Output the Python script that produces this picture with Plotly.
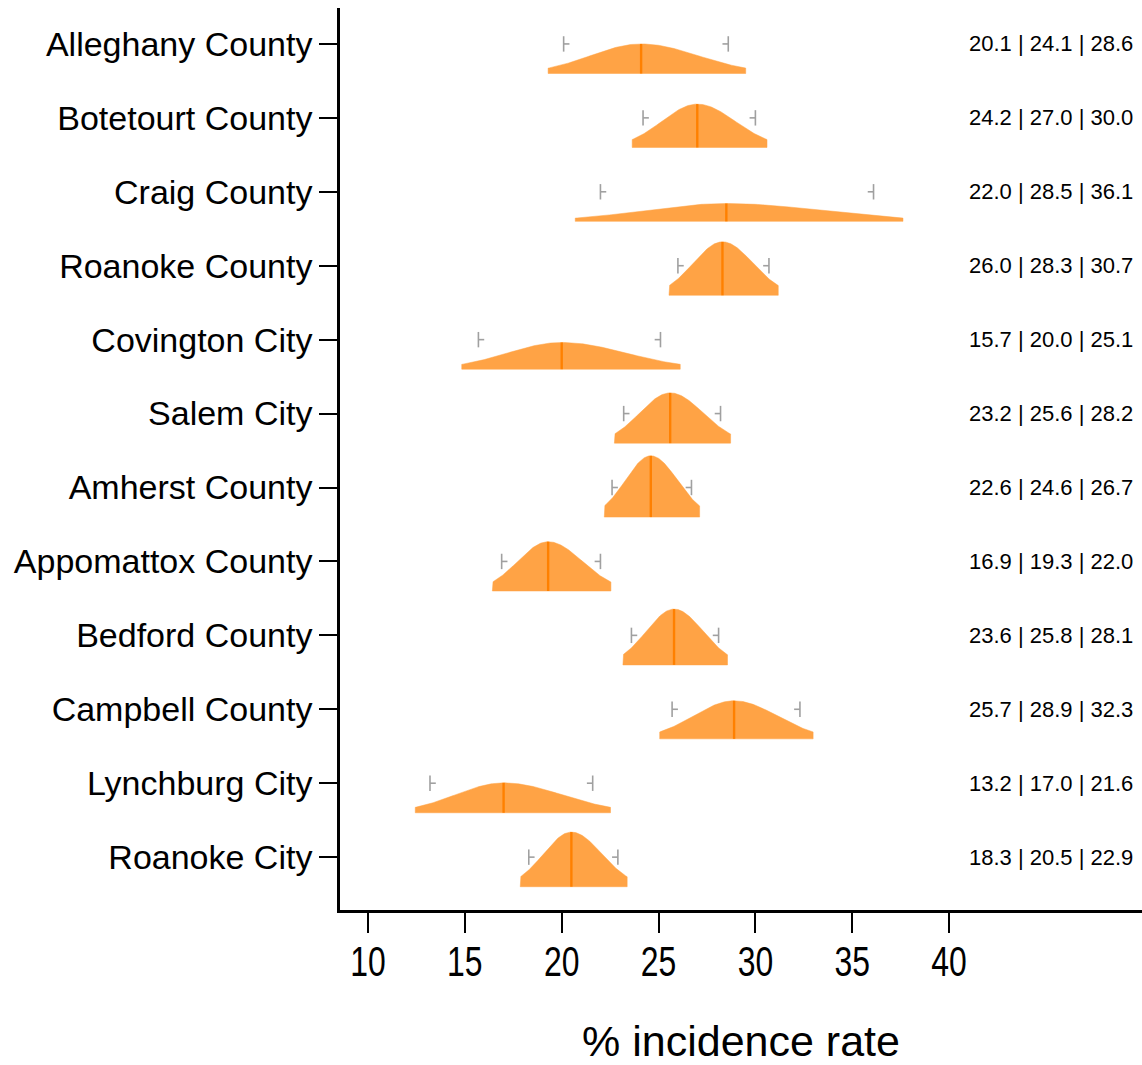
import numpy as np
import plotly.graph_objects as go

counties = ["Alleghany County", "Botetourt County", "Craig County", "Roanoke County",
            "Covington City", "Salem City", "Amherst County", "Appomattox County",
            "Bedford County", "Campbell County", "Lynchburg City", "Roanoke City"]
lower = [20.1, 24.2, 22.0, 26.0, 15.7, 23.2, 22.6, 16.9, 23.6, 25.7, 13.2, 18.3]
median = [24.1, 27.0, 28.5, 28.3, 20.0, 25.6, 24.6, 19.3, 25.8, 28.9, 17.0, 20.5]
upper = [28.6, 30.0, 36.1, 30.7, 25.1, 28.2, 26.7, 22.0, 28.1, 32.3, 21.6, 22.9]
x_ticks = [10, 15, 20, 25, 30, 35, 40]
x_title = "% incidence rate"

FILL = "#FFA345"
MED = "#FF8000"
GRAY = "#A0A0A0"

BASE_OFF = 0.40     # baseline offset below the category centre (y units)
AREA_K = 3.4        # peak height * CI width
EXT = 1.2           # shape extends 1.2 x half-CI beyond the median
SD_K = 0.65         # shape sd relative to half-CI

fig = go.Figure()

for i, (lo, me, hi) in enumerate(zip(lower, median, upper)):
    height = AREA_K / (hi - lo)
    base = i + BASE_OFF
    hl, hr = me - lo, hi - me
    xl = np.linspace(me - EXT * hl, me, 80)
    xr = np.linspace(me, me + EXT * hr, 80)
    dl = np.exp(-0.5 * ((xl - me) / (SD_K * hl)) ** 2)
    dr = np.exp(-0.5 * ((xr - me) / (SD_K * hr)) ** 2)
    xs = np.concatenate([[xl[0]], xl, xr[1:], [xr[-1]], [xl[0]]])
    ys = np.concatenate([[base], base - height * dl, base - height * dr[1:], [base], [base]])
    fig.add_trace(go.Scatter(x=xs, y=ys, mode="lines", fill="toself", fillcolor=FILL,
                             line=dict(color=FILL, width=0.5), hoverinfo="skip",
                             showlegend=False))
    # median line
    fig.add_trace(go.Scatter(x=[me, me], y=[base, base - height], mode="lines",
                             line=dict(color=MED, width=2.4), hoverinfo="skip",
                             showlegend=False))
    # CI caps
    stub = 0.3
    fig.add_trace(go.Scatter(x=[lo, lo + stub, None, hi - stub, hi],
                             y=[i, i, None, i, i], mode="lines",
                             line=dict(color=GRAY, width=1.6), hoverinfo="skip",
                             showlegend=False))
    fig.add_trace(go.Scatter(x=[lo, hi], y=[i, i], mode="markers",
                             marker=dict(symbol="line-ns", size=11,
                                         line=dict(color=GRAY, width=1.6)),
                             hoverinfo="skip", showlegend=False))
    fig.add_annotation(x=0.9915, xref="paper", y=i, yref="y",
                       text=f"{lo:.1f} | {me:.1f} | {hi:.1f}", showarrow=False,
                       xanchor="right", yanchor="middle",
                       font=dict(family="Liberation Sans, Arial, sans-serif",
                                 size=22, color="black"))

fig.update_layout(
    width=1142, height=1065,
    margin=dict(l=340, r=0, t=8, b=153),
    plot_bgcolor="white", paper_bgcolor="white",
    showlegend=False,
    xaxis=dict(range=[8.554, 49.96], tickvals=x_ticks, ticktext=[str(t) for t in x_ticks],
               showline=True, linecolor="black", linewidth=2.5,
               ticks="outside", ticklen=20, tickwidth=2, tickcolor="black",
               ticklabelstandoff=-7,
               showgrid=False, zeroline=False,
               tickfont=dict(family="Liberation Sans, Arial, sans-serif",
                             size=42, color="black"),
               title=dict(text=x_title, standoff=50,
                          font=dict(family="Liberation Sans, Arial, sans-serif",
                                    size=43, color="black"))),
    yaxis=dict(range=[11.715, -0.486], tickvals=list(range(len(counties))),
               ticktext=counties,
               showline=True, linecolor="black", linewidth=2.5,
               ticks="outside", ticklen=18, tickwidth=2, tickcolor="black",
               showgrid=False, zeroline=False,
               tickfont=dict(family="Liberation Sans, Arial, sans-serif",
                             size=34, color="black")),
)

post = """
document.body.style.margin = '0';
document.querySelectorAll('.xtick text').forEach(function(t){
  var w = t.getComputedTextLength();
  t.setAttribute('lengthAdjust', 'spacingAndGlyphs');
  t.setAttribute('textLength', (w * 0.76).toFixed(1));
});
"""

fig.write_html("out.html", post_script=post, config={"displayModeBar": False})
